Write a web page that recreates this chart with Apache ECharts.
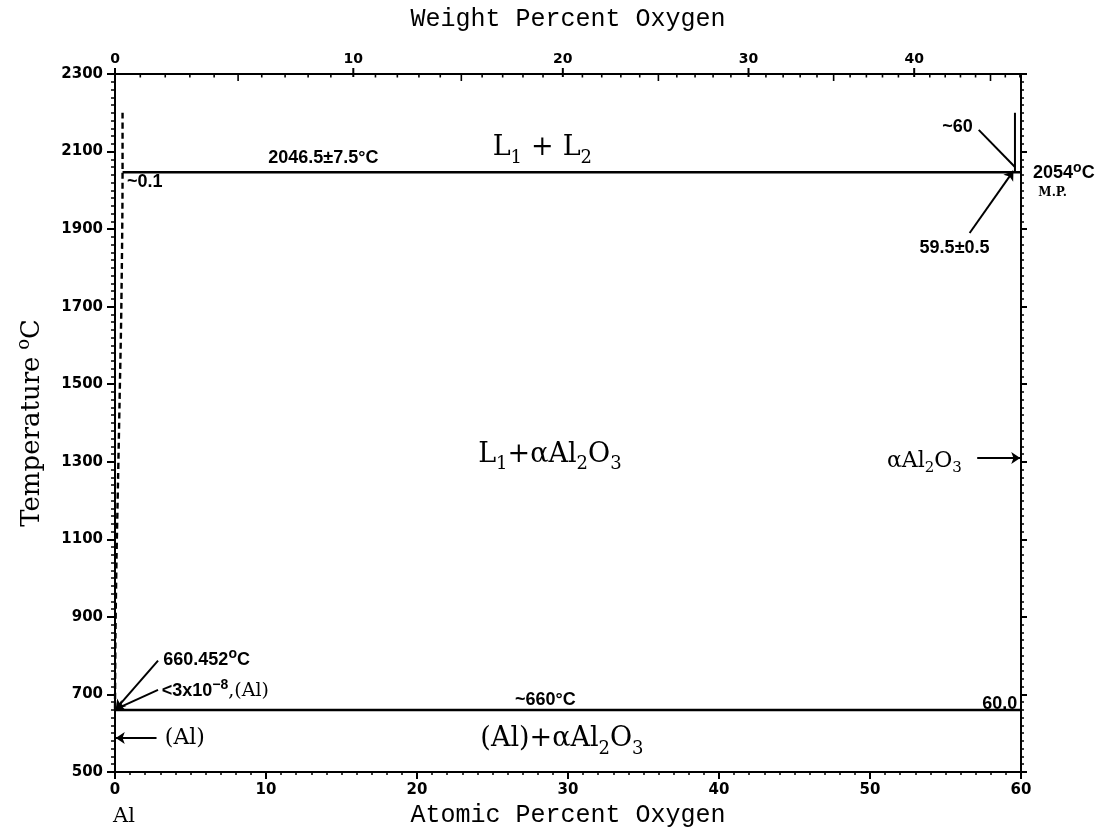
<!DOCTYPE html>
<html>
<head>
<meta charset="utf-8">
<script src="https://cdn.jsdelivr.net/npm/echarts@6/dist/echarts.min.js"></script>
<style>
  html, body { margin: 0; padding: 0; background: #fff; }
  #chart { width: 1097px; height: 833px; }
</style>
</head>
<body>
<div id="chart"></div>
<script>
// Al–O phase diagram: temperature (°C) against atomic percent oxygen,
// with a weight-percent oxygen scale along the top edge.

const tempMin = 500, tempMax = 2300, tempStep = 200;
const atomicMin = 0, atomicMax = 60, atomicStep = 10;

// labelled weight-percent ticks and the minor ones between them
const weightMajorTicks = [0, 10, 20, 30, 40];
const weightMinorTicks = [1, 2, 3, 4, 5, 6, 7, 8, 9, 11, 12, 13, 14, 15, 16, 17, 18, 19,
  21, 22, 23, 24, 25, 26, 27, 28, 29, 31, 32, 33, 34, 35, 36, 37, 38, 39,
  41, 42, 43, 44, 45, 46, 47];

// phase boundaries: [at.% O, °C]
const monotecticLine = [[0.5, 2046.5], [60, 2046.5]];
const eutecticLine = [[0, 660], [60, 660]];
const liquidL2Boundary = [[59.6, 2046.5], [59.6, 2200]];
const liquidusAlSide = [[0.5, 2200], [0.5, 2046.5], [0.42, 1700], [0.3, 1450],
  [0.2, 1250], [0.1, 1050], [0.03, 850], [0, 660]];

// atomic masses used to convert weight percent to atomic percent
const massO = 15.999, massAl = 26.982;
function atomicFromWeight(w) {
  const nO = w / massO, nAl = (100 - w) / massAl;
  return 100 * nO / (nO + nAl);
}

const serif = 'DejaVu Serif';
const sans = 'Liberation Sans';
const ink = '#000';

const regionRich = {
  m: { fontFamily: serif, fontSize: 27, fill: ink, lineHeight: 38, verticalAlign: 'middle' },
  p: { fontFamily: serif, fontSize: 27, fill: ink, lineHeight: 38, verticalAlign: 'middle', padding: [0, 9] },
  s: { fontFamily: serif, fontSize: 18, fill: ink, lineHeight: 18, verticalAlign: 'bottom' }
};
const smallRich = {
  b: { fontFamily: sans, fontWeight: 'bold', fontSize: 18, fill: ink, lineHeight: 24, verticalAlign: 'middle' },
  sup: { fontFamily: sans, fontWeight: 'bold', fontSize: 14, fill: ink, lineHeight: 14, verticalAlign: 'top' },
  r: { fontFamily: serif, fontSize: 19, fill: ink, lineHeight: 24, verticalAlign: 'middle' },
  rl: { fontFamily: serif, fontSize: 22, fill: ink, lineHeight: 26, verticalAlign: 'middle' },
  mp: { fontFamily: serif, fontWeight: 'bold', fontSize: 12, fill: ink, lineHeight: 14, verticalAlign: 'middle' }
};
const sideRich = {
  m: { fontFamily: serif, fontSize: 22, fill: ink, lineHeight: 30, verticalAlign: 'middle' },
  s: { fontFamily: serif, fontSize: 15, fill: ink, lineHeight: 15, verticalAlign: 'bottom' }
};

// text placed on the diagram: anchor in data units, alignment, rich text
const notes = [
  { at: [28.3, 2109], align: 'center', text: '{m|L}{s|1}{p|+}{m|L}{s|2}', rich: regionRich },
  { at: [28.8, 1318], align: 'center', text: '{m|L}{s|1}{m|+αAl}{s|2}{m|O}{s|3}', rich: regionRich },
  { at: [29.6, 585], align: 'center', text: '{m|(Al)+αAl}{s|2}{m|O}{s|3}', rich: regionRich },
  { at: [53.6, 1302], align: 'center', text: '{m|αAl}{s|2}{m|O}{s|3}', rich: sideRich },
  { at: [13.8, 2083], align: 'center', text: '{b|2046.5±7.5°C}', rich: smallRich },
  { at: [0.8, 2021], align: 'left', text: '{b|~0.1}', rich: smallRich },
  { at: [56.8, 2163], align: 'right', text: '{b|~60}', rich: smallRich },
  { at: [60.8, 2045], align: 'left', text: '{b|2054}{sup|o}{b|C}', rich: smallRich },
  { at: [62.1, 1993], align: 'center', text: '{mp|M.P.}', rich: smallRich },
  { at: [55.6, 1851], align: 'center', text: '{b|59.5±0.5}', rich: smallRich },
  { at: [3.2, 790], align: 'left', text: '{b|660.452}{sup|o}{b|C}', rich: smallRich },
  { at: [3.1, 710], align: 'left', text: '{b|<3x10}{sup|−8}{r|,(Al)}', rich: smallRich },
  { at: [3.3, 588], align: 'left', text: '{rl|(Al)}', rich: smallRich },
  { at: [28.5, 685], align: 'center', text: '{b|~660°C}', rich: smallRich },
  { at: [59.75, 675], align: 'right', text: '{b|60.0}', rich: smallRich }
];

// leader lines and arrows: [from, to]
const pointers = [
  { coords: [[2.85, 787], [0.05, 662]], head: true },
  { coords: [[2.85, 712], [0.05, 662]], head: true },
  { coords: [[2.75, 588], [0.05, 588]], head: true },
  { coords: [[57.1, 1310], [59.95, 1310]], head: true },
  { coords: [[56.6, 1890], [59.5, 2050]], head: true },
  { coords: [[57.2, 2156], [59.6, 2060]], head: false }
];

const chart = echarts.init(document.getElementById('chart'), null, { renderer: 'canvas' });

const tickLabelStyle = { fontFamily: 'DejaVu Sans', fontWeight: 'bold', fontSize: 15, color: ink,
  formatter: v => String(v) };
const axisLine = { show: true, onZero: false, lineStyle: { color: ink, width: 2 } };

function phaseLine(name, data, extra) {
  return Object.assign({
    name, type: 'line', data, showSymbol: false, symbol: 'none', silent: true,
    lineStyle: { color: ink, width: 2.6 }, clip: false, z: 3
  }, extra || {});
}

chart.setOption({
  animation: false,
  backgroundColor: '#fff',
  grid: { left: 115, right: 76, top: 74, bottom: 61 },
  xAxis: [
    {
      type: 'value', position: 'bottom', min: atomicMin, max: atomicMax, interval: atomicStep,
      name: 'Atomic Percent Oxygen', nameLocation: 'middle', nameGap: 30,
      nameTextStyle: { fontFamily: 'Liberation Mono', fontSize: 25, color: ink },
      axisLine, splitLine: { show: false },
      axisTick: { show: true, length: 7, inside: false, lineStyle: { color: ink, width: 2 } },
      minorTick: { show: true, splitNumber: 10, length: 3, lineStyle: { color: ink, width: 1.5 } },
      axisLabel: Object.assign({ margin: 11 }, tickLabelStyle)
    },
    {
      type: 'value', position: 'top', min: atomicMin, max: atomicMax,
      name: 'Weight Percent Oxygen', nameLocation: 'middle', nameGap: 42,
      nameTextStyle: { fontFamily: 'Liberation Mono', fontSize: 25, color: ink },
      axisLine, splitLine: { show: false }, axisTick: { show: false }, axisLabel: { show: false }
    }
  ],
  yAxis: [
    {
      type: 'value', position: 'left', min: tempMin, max: tempMax, interval: tempStep,
      name: '{t|Temperature}  {o|o}{t|C}', nameLocation: 'middle', nameGap: 66,
      nameTextStyle: { rich: {
        t: { fontFamily: serif, fontSize: 26, color: ink, lineHeight: 34, verticalAlign: 'middle' },
        o: { fontFamily: serif, fontSize: 18, color: ink, lineHeight: 18, verticalAlign: 'top' } } },
      axisLine, splitLine: { show: false },
      axisTick: { show: true, length: 8, lineStyle: { color: ink, width: 2 } },
      minorTick: { show: true, splitNumber: 10, length: 4, lineStyle: { color: ink, width: 1.5 } },
      axisLabel: Object.assign({ margin: 12 }, tickLabelStyle)
    },
    {
      type: 'value', position: 'right', min: tempMin, max: tempMax, interval: tempStep,
      axisLine, splitLine: { show: false },
      axisTick: { show: true, length: 6, lineStyle: { color: ink, width: 2 } },
      minorTick: { show: true, splitNumber: 10, length: 3, lineStyle: { color: ink, width: 1.5 } },
      axisLabel: { show: false }
    }
  ],
  series: [
    phaseLine('monotectic', monotecticLine),
    phaseLine('eutectic', eutecticLine),
    phaseLine('L2 boundary', liquidL2Boundary, { lineStyle: { color: ink, width: 2 } }),
    phaseLine('liquidus (Al side)', liquidusAlSide, {
      smooth: 0.3, lineStyle: { color: ink, width: 2.4, type: [6, 4] } }),
    {
      name: 'weight scale', type: 'custom', coordinateSystem: 'cartesian2d', silent: true, clip: false, z: 4,
      data: weightMajorTicks.map(w => [atomicFromWeight(w), tempMax, w, 1])
        .concat(weightMinorTicks.map(w => [atomicFromWeight(w), tempMax, w, 0])),
      renderItem(params, api) {
        const p = api.coord([api.value(0), api.value(1)]);
        const w = api.value(2), major = api.value(3) === 1;
        const children = [];
        if (major) {
          children.push({ type: 'line', shape: { x1: p[0], y1: p[1] - 6, x2: p[0], y2: p[1] + 3 },
            style: { stroke: ink, lineWidth: 2 } });
          children.push({ type: 'text', x: p[0], y: p[1] - 8,
            style: { text: String(w), align: 'center', verticalAlign: 'bottom',
              fontFamily: 'DejaVu Sans', fontWeight: 'bold', fontSize: 14, fill: ink } });
        } else {
          const len = (w % 5 === 0) ? 7 : 3.5;
          children.push({ type: 'line', shape: { x1: p[0], y1: p[1], x2: p[0], y2: p[1] + len },
            style: { stroke: ink, lineWidth: 1.6 } });
        }
        return { type: 'group', children };
      }
    },
    {
      name: 'pointers', type: 'lines', coordinateSystem: 'cartesian2d', silent: true, z: 5,
      data: pointers.map(p => ({
        coords: p.coords,
        symbol: ['none', p.head ? 'arrow' : 'none'],
        symbolSize: 9
      })),
      lineStyle: { color: ink, width: 2, opacity: 1, curveness: 0 }
    }
  ]
});

// place the annotation texts at their data anchors
const noteGraphics = notes.map(n => {
  const p = chart.convertToPixel({ xAxisIndex: 0, yAxisIndex: 0 }, n.at);
  return {
    type: 'text', x: p[0], y: p[1], z: 10, silent: true,
    style: { text: n.text, rich: n.rich, align: n.align, verticalAlign: 'middle', fill: ink }
  };
});
noteGraphics.push({
  type: 'text', left: 113, top: 806, silent: true,
  style: { text: 'Al', fontFamily: serif, fontSize: 21, fill: ink }
});
chart.setOption({ graphic: noteGraphics });
</script>
</body>
</html>
